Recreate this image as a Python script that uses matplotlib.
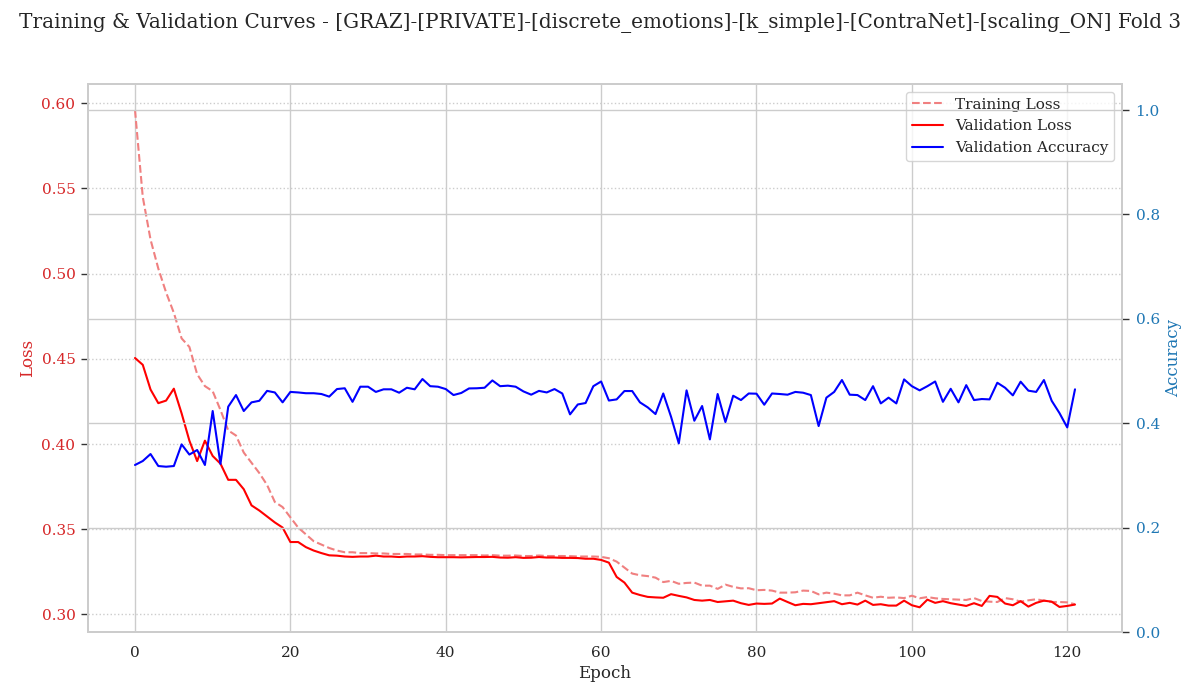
import numpy as np
import matplotlib
matplotlib.use("Agg")
import matplotlib.pyplot as plt
import seaborn as sns

sns.set_style("whitegrid")
plt.rcParams['font.family'] = 'DejaVu Serif'

train_loss = [0.596, 0.545, 0.520, 0.503, 0.489, 0.477, 0.462, 0.457, 0.441, 0.434,
              0.431, 0.420, 0.408, 0.405, 0.395, 0.389, 0.383, 0.376, 0.366, 0.363,
              0.357, 0.351, 0.347, 0.343, 0.341, 0.339, 0.3375, 0.3365, 0.3365, 0.336,
              0.336, 0.3358, 0.3358, 0.3355, 0.3355, 0.3355, 0.3352, 0.3352, 0.335, 0.335,
              0.3348, 0.3348, 0.3348, 0.3348, 0.3348, 0.3346, 0.3348, 0.3345, 0.3345, 0.3346,
              0.3343, 0.3343, 0.3346, 0.3343, 0.3343, 0.3343, 0.3342, 0.334, 0.334, 0.334,
              0.3338, 0.333, 0.331, 0.3275, 0.324, 0.323, 0.3225, 0.3216, 0.319, 0.3197,
              0.318, 0.3185, 0.3187, 0.3169, 0.3169, 0.315, 0.3175, 0.3162, 0.3153, 0.3154,
              0.3142, 0.3144, 0.314, 0.3128, 0.3128, 0.313, 0.314, 0.3138, 0.3118, 0.3128,
              0.3122, 0.3112, 0.3112, 0.3128, 0.3112, 0.3098, 0.3104, 0.3098, 0.31, 0.3096,
              0.311, 0.3095, 0.3102, 0.3095, 0.3091, 0.3089, 0.3087, 0.3085, 0.3096, 0.3079,
              0.3075, 0.3073, 0.3096, 0.3089, 0.3075, 0.3083, 0.3089, 0.3081, 0.3073, 0.3073,
              0.3071, 0.306]

val_loss = [0.4505, 0.4465, 0.432, 0.424, 0.4255, 0.4325, 0.418, 0.402, 0.390, 0.402,
            0.393, 0.3885, 0.379, 0.379, 0.3735, 0.364, 0.361, 0.3575, 0.354, 0.351,
            0.3425, 0.3425, 0.3395, 0.3375, 0.336, 0.3347, 0.3345, 0.334, 0.3338, 0.334,
            0.334, 0.3345, 0.334, 0.334, 0.3337, 0.334, 0.334, 0.3342, 0.3338, 0.3336,
            0.3336, 0.3336, 0.3335, 0.3336, 0.3337, 0.3337, 0.3338, 0.3334, 0.3333, 0.3336,
            0.3332, 0.3333, 0.3337, 0.3334, 0.3334, 0.3332, 0.3332, 0.3331, 0.3327, 0.3327,
            0.332, 0.3304, 0.322, 0.3187, 0.3128, 0.3114, 0.3103, 0.31, 0.3098, 0.3119,
            0.3109, 0.31, 0.3085, 0.3081, 0.3085, 0.3073, 0.3077, 0.3081, 0.3066, 0.3056,
            0.3064, 0.3062, 0.3064, 0.3093, 0.3073, 0.3054, 0.3062, 0.306, 0.3066, 0.3072,
            0.3078, 0.306, 0.3068, 0.3058, 0.3081, 0.3056, 0.306, 0.3052, 0.3052, 0.3081,
            0.3054, 0.3042, 0.3087, 0.3068, 0.3078, 0.3066, 0.3058, 0.305, 0.3066, 0.305,
            0.3109, 0.3103, 0.3064, 0.3054, 0.3078, 0.3046, 0.3068, 0.3081, 0.3075, 0.3044,
            0.305, 0.3058]

val_acc = [0.32, 0.3276, 0.341, 0.318, 0.3167, 0.318, 0.3595, 0.34, 0.3487, 0.32,
           0.4234, 0.322, 0.4317, 0.454, 0.4234, 0.44, 0.443, 0.462, 0.459, 0.44,
           0.46, 0.459, 0.4575, 0.4575, 0.456, 0.451, 0.4655, 0.467, 0.441, 0.47,
           0.47, 0.46, 0.465, 0.465, 0.4585, 0.468, 0.465, 0.4847, 0.471, 0.47,
           0.4655, 0.454, 0.458, 0.4667, 0.467, 0.468, 0.482, 0.471, 0.472, 0.47,
           0.461, 0.4547, 0.462, 0.459, 0.4655, 0.457, 0.417, 0.436, 0.4387, 0.471,
           0.48, 0.4435, 0.4457, 0.4617, 0.4617, 0.44, 0.4304, 0.4176, 0.457, 0.4125,
           0.3614, 0.463, 0.4048, 0.433, 0.369, 0.456, 0.4023, 0.4527, 0.4444, 0.457,
           0.4566, 0.4355, 0.457, 0.456, 0.4547, 0.46, 0.4585, 0.454, 0.3946, 0.449,
           0.46, 0.4828, 0.4547, 0.454, 0.4444, 0.471, 0.438, 0.449, 0.438, 0.484,
           0.471, 0.463, 0.471, 0.48, 0.441, 0.466, 0.44, 0.473, 0.4444, 0.4464,
           0.4457, 0.4776, 0.468, 0.4534, 0.4796, 0.4624, 0.46, 0.4828, 0.443, 0.4195,
           0.392, 0.465]

epochs = np.arange(len(train_loss))
loss_ticks = [0.30, 0.35, 0.40, 0.45, 0.50, 0.55, 0.60]
acc_ticks = [0.0, 0.2, 0.4, 0.6, 0.8, 1.0]

fig, ax1 = plt.subplots(figsize=(12, 7), dpi=100)
fig.subplots_adjust(left=88/1200, right=1122/1200, top=1-84/700, bottom=1-632/700)

l1, = ax1.plot(epochs, train_loss, color='lightcoral', linestyle='--', linewidth=1.5, label='Training Loss')
l2, = ax1.plot(epochs, val_loss, color='red', linewidth=1.5, label='Validation Loss')
ax1.set_xlim(-6.05, 127.05)
ax1.set_ylim(0.2897, 0.6113)
ax1.set_yticks(loss_ticks)
ax1.set_yticklabels(['%.2f' % t for t in loss_ticks])
ax1.set_xlabel('Epoch', fontsize=12)
ax1.set_ylabel('Loss', color='tab:red', fontsize=12, labelpad=4)
ax1.tick_params(axis='y', labelcolor='tab:red', labelsize=11, length=5, width=1.0, pad=4, left=True, color='#333333')
ax1.tick_params(axis='x', labelsize=11, length=5, width=1.0, pad=4.8, bottom=False)
ax1.grid(True, axis='x', color='0.8', linewidth=1.0)
ax1.grid(True, axis='y', color='0.8', linestyle=':', linewidth=1.0)

ax2 = ax1.twinx()
l3, = ax2.plot(epochs, val_acc, color='blue', linewidth=1.5, label='Validation Accuracy')
ax2.set_ylim(0, 1.05)
ax2.set_yticks(acc_ticks)
ax2.set_ylabel('Accuracy', color='tab:blue', fontsize=12, labelpad=4)
ax2.tick_params(axis='y', labelcolor='tab:blue', labelsize=11, length=5, width=1.0, pad=4.8, right=True, color='#333333')
ax2.grid(True, axis='y', color='0.8', linewidth=1.0)

for ax in (ax1, ax2):
    for s in ax.spines.values():
        s.set_color('0.8')
        s.set_linewidth(1.4)

ax1.legend(handles=[l1, l2, l3], loc='upper right', fontsize=11, frameon=True)

fig.suptitle('Training & Validation Curves - [GRAZ]-[PRIVATE]-[discrete_emotions]-[k_simple]-[ContraNet]-[scaling_ON] Fold 3',
             fontsize=14.4, x=0.5, y=0.982)
fig.savefig('out.png', dpi=100)
